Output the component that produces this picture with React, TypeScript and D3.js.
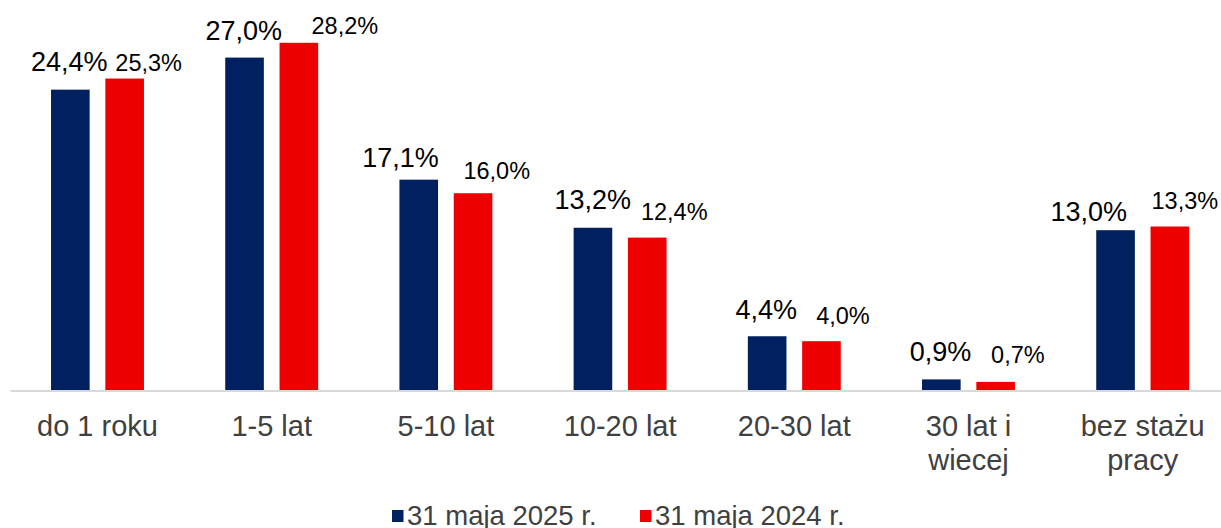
import React from "react";
import * as d3 from "d3";

const categories: string[][] = [
  ["do 1 roku"],
  ["1-5 lat"],
  ["5-10 lat"],
  ["10-20 lat"],
  ["20-30 lat"],
  ["30 lat i", "wiecej"],
  ["bez stażu", "pracy"],
];
const seriesNames = ["31 maja 2025 r.", "31 maja 2024 r."];
const values2025 = [24.4, 27.0, 17.1, 13.2, 4.4, 0.9, 13.0];
const values2024 = [25.3, 28.2, 16.0, 12.4, 4.0, 0.7, 13.3];

// manual label nudges (as in the source chart): [dx from bar centre, gap above bar top]
const nudge2025: [number, number][] = [[-1, 18.6], [-0.7, 17.7], [-18.3, 12.7], [-0.2, 18.3], [-0.8, 17.3], [-0.9, 18.4], [-26.8, 9.7]];
const nudge2024: [number, number][] = [[24, 8], [46, 8.3], [23.7, 14], [27, 17.6], [21.5, 17.3], [22.2, 18.7], [15, 17.7]];

const W = 1221;
const H = 528;
const NAVY = "#002060";
const RED = "#EE0000";
const FONT = "Arial, 'Liberation Sans', sans-serif";

const fmt = (v: number) => v.toFixed(1).replace(".", ",") + "%";

export default function App() {
  const keys = categories.map((c) => c.join(" "));
  const x0 = d3.scaleBand<string>().domain(keys).range([10.4, 1229.8]).paddingInner(0).paddingOuter(0);
  const x1 = d3
    .scaleBand<string>()
    .domain(seriesNames)
    .range([0, x0.bandwidth()])
    .paddingInner(0.289)
    .paddingOuter(0.748);
  const y = d3.scaleLinear().domain([0, 30]).range([390.5, 20.6]);
  const baseY = y(0);

  const series = [
    { name: seriesNames[0], values: values2025, color: NAVY, nudge: nudge2025, size: 27 },
    { name: seriesNames[1], values: values2024, color: RED, nudge: nudge2024, size: 23.5 },
  ];

  return (
    <svg
      width={W}
      height={H}
      style={{ position: "absolute", left: 0, top: 0, background: "#fff" }}
      fontFamily={FONT}
    >
      <rect x={0} y={0} width={W} height={H} fill="#fff" />
      {series.map((s) =>
        s.values.map((v, i) => {
          const bx = (x0(keys[i]) ?? 0) + (x1(s.name) ?? 0);
          const bw = x1.bandwidth();
          const top = y(v);
          const [dx, gap] = s.nudge[i];
          return (
            <g key={s.name + i}>
              <rect x={bx} y={top} width={bw} height={baseY - top} fill={s.color} />
              <text
                x={bx + bw / 2 + dx}
                y={top - gap}
                textAnchor="middle"
                fontSize={s.size}
                fill="#000"
              >
                {fmt(v)}
              </text>
            </g>
          );
        })
      )}
      <line x1={10.5} x2={W} y1={391} y2={391} stroke="#D9D9D9" strokeWidth={2} />
      {categories.map((lines, i) => {
        const cx = (x0(keys[i]) ?? 0) + x0.bandwidth() / 2;
        return (
          <text key={keys[i]} x={cx} y={436} textAnchor="middle" fontSize={29} fill="#404040">
            {lines.map((l, j) => (
              <tspan key={j} x={cx} dy={j === 0 ? 0 : 34}>
                {l}
              </tspan>
            ))}
          </text>
        );
      })}
      {series.map((s, i) => {
        const lx = i === 0 ? 392 : 640;
        return (
          <g key={"lg" + i}>
            <rect x={lx} y={510} width={11.5} height={12} fill={s.color} />
            <text x={lx + 15} y={525} fontSize={27.5} fill="#404040">
              {s.name}
            </text>
          </g>
        );
      })}
    </svg>
  );
}
